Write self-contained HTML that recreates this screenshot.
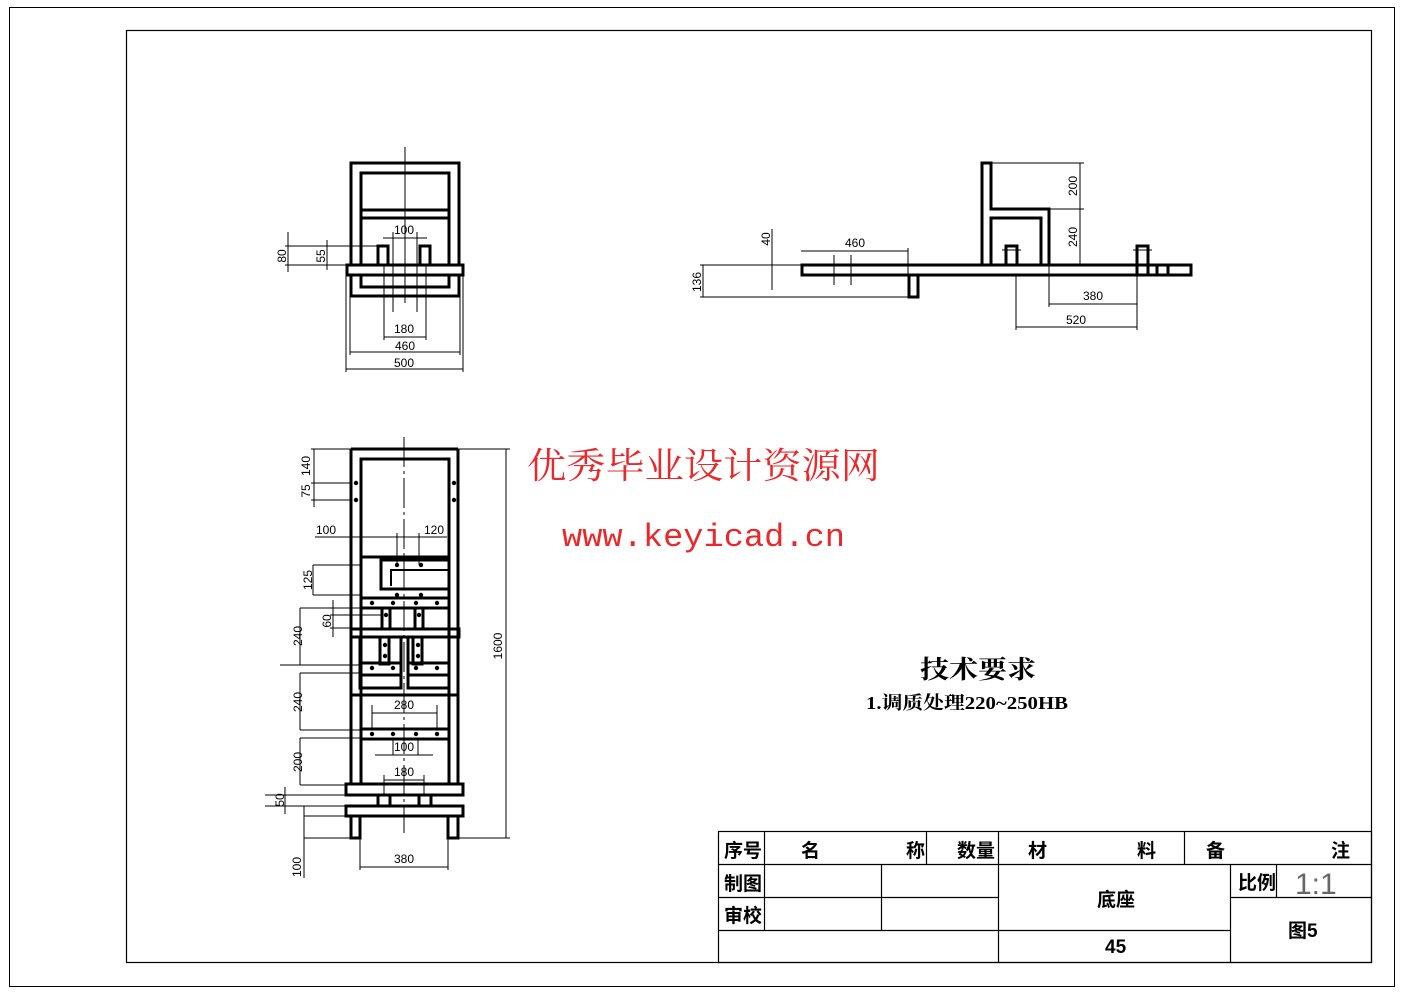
<!DOCTYPE html>
<html><head><meta charset="utf-8"><style>
html,body{margin:0;padding:0;background:#fff;}
svg{display:block;}
text{font-family:"Liberation Sans","Noto Sans CJK SC",sans-serif;}
</style></head><body>
<svg width="1403" height="992" viewBox="0 0 1403 992" xmlns="http://www.w3.org/2000/svg">
<rect x="0" y="0" width="1403" height="992" fill="#fff"/>
<rect x="9.5" y="7.5" width="1385" height="979" fill="none" stroke="#000" stroke-width="1"/>
<rect x="126.5" y="30.5" width="1245" height="932" fill="none" stroke="#000" stroke-width="1.2"/>

<!-- TOP LEFT VIEW -->
<g fill="none" stroke="#000">
<rect x="351" y="163" width="108" height="133" stroke-width="3"/>
<rect x="361" y="173" width="88" height="114" stroke-width="3"/>
<line x1="361" y1="210" x2="449" y2="210" stroke-width="3"/>
<line x1="361" y1="218" x2="449" y2="218" stroke-width="3"/>
<rect x="347" y="265" width="116" height="10" stroke-width="3" fill="#fff"/>
<rect x="378" y="246" width="10" height="19" stroke-width="3"/>
<rect x="420" y="246" width="10" height="19" stroke-width="3"/>
<g stroke-width="1">
<line x1="405" y1="147" x2="405" y2="303"/>
<line x1="393" y1="232" x2="393" y2="312"/><line x1="417" y1="232" x2="417" y2="312"/>
<line x1="383" y1="238" x2="427" y2="238"/>
<line x1="384" y1="265" x2="384" y2="340"/><line x1="426" y1="265" x2="426" y2="340"/>
<line x1="384" y1="337" x2="426" y2="337"/>
<line x1="350" y1="296" x2="350" y2="355"/><line x1="460" y1="296" x2="460" y2="355"/>
<line x1="350" y1="352" x2="460" y2="352"/>
<line x1="346" y1="275" x2="346" y2="372"/><line x1="463" y1="275" x2="463" y2="372"/>
<line x1="346" y1="369" x2="463" y2="369"/>
<line x1="285" y1="246" x2="378" y2="246"/><line x1="285" y1="265" x2="347" y2="265"/>
<line x1="288" y1="232" x2="288" y2="272"/>
<line x1="327" y1="240" x2="327" y2="270"/>
</g></g>
<g font-size="12" text-anchor="middle">
<text x="404" y="234">100</text><text x="404" y="333">180</text>
<text x="405" y="350">460</text><text x="404" y="367">500</text>
<text transform="translate(286,256) rotate(-90)">80</text>
<text transform="translate(325,256) rotate(-90)">55</text>
</g>

<!-- TOP RIGHT VIEW -->
<g fill="none" stroke="#000">
<rect x="802" y="265" width="389" height="10" stroke-width="3"/>
<rect x="909" y="275" width="9" height="22" stroke-width="3"/>
<polyline points="982,265 982,163 991,163 991,209 1049,209 1049,265" stroke-width="3"/>
<polyline points="991,265 991,218 1041,218 1041,265" stroke-width="3"/>
<rect x="1006" y="246" width="11" height="19" stroke-width="3"/>
<rect x="1137" y="246" width="11" height="29" stroke-width="3"/>
<line x1="1157" y1="265" x2="1157" y2="275" stroke-width="3"/>
<line x1="1168" y1="265" x2="1168" y2="275" stroke-width="3"/>
<g stroke-width="1">
<line x1="991" y1="163" x2="1084" y2="163"/><line x1="1049" y1="209" x2="1084" y2="209"/>
<line x1="1080" y1="163" x2="1080" y2="265"/>
<line x1="834" y1="255" x2="834" y2="285"/><line x1="851" y1="255" x2="851" y2="285"/>
<line x1="801" y1="251" x2="908" y2="251"/><line x1="908" y1="248" x2="908" y2="275"/>
<line x1="772" y1="229" x2="772" y2="290"/><line x1="770" y1="265" x2="802" y2="265"/>
<line x1="700" y1="265" x2="802" y2="265"/><line x1="700" y1="297" x2="909" y2="297"/>
<line x1="703" y1="265" x2="703" y2="297"/>
<line x1="1002" y1="250" x2="1021" y2="250"/><line x1="1133" y1="250" x2="1152" y2="250"/>
<line x1="1016" y1="275" x2="1016" y2="330"/><line x1="1049" y1="265" x2="1049" y2="307"/>
<line x1="1137" y1="275" x2="1137" y2="330"/>
<line x1="1049" y1="304" x2="1137" y2="304"/><line x1="1016" y1="327" x2="1137" y2="327"/>
</g></g>
<g font-size="12" text-anchor="middle">
<text x="855" y="247">460</text><text x="1093" y="300">380</text><text x="1076" y="324">520</text>
<text transform="translate(1077,186) rotate(-90)">200</text>
<text transform="translate(1077,237) rotate(-90)">240</text>
<text transform="translate(770,239) rotate(-90)">40</text>
<text transform="translate(701,282) rotate(-90)">136</text>
</g>

<!-- BOTTOM VIEW -->
<g fill="none" stroke="#000">
<line x1="351" y1="449" x2="351" y2="784" stroke-width="3"/>
<line x1="458" y1="449" x2="458" y2="784" stroke-width="3"/>
<line x1="351" y1="449" x2="458" y2="449" stroke-width="3"/>
<rect x="361" y="459" width="88" height="98" stroke-width="3"/>
<line x1="361" y1="557" x2="361" y2="784" stroke-width="3"/>
<line x1="449" y1="557" x2="449" y2="784" stroke-width="3"/>
<polyline points="449,560 381,560 381,589 449,589" stroke-width="3"/>
<polyline points="449,570 391,570 391,586" stroke-width="2"/>
<rect x="361" y="598" width="88" height="10" stroke-width="3"/>
<rect x="382" y="608" width="8" height="21" stroke-width="3"/>
<rect x="415" y="608" width="8" height="21" stroke-width="3"/>
<rect x="351" y="629" width="108" height="8" stroke-width="3"/>
<rect x="360" y="637" width="41" height="51" stroke-width="3"/>
<rect x="408" y="637" width="41" height="51" stroke-width="3"/>
<line x1="360" y1="663" x2="401" y2="663" stroke-width="3"/><line x1="360" y1="675" x2="401" y2="675" stroke-width="3"/>
<line x1="408" y1="663" x2="449" y2="663" stroke-width="3"/><line x1="408" y1="675" x2="449" y2="675" stroke-width="3"/>
<rect x="380" y="637" width="9" height="27" stroke-width="3"/>
<rect x="413" y="637" width="9" height="27" stroke-width="3"/>
<line x1="351" y1="695" x2="458" y2="695" stroke-width="3"/>
<rect x="361" y="729" width="88" height="10" stroke-width="3"/>
<rect x="346" y="784" width="117" height="11" stroke-width="3" fill="#fff"/>
<rect x="378" y="795" width="12" height="11" stroke-width="3"/>
<rect x="419" y="795" width="12" height="11" stroke-width="3"/>
<rect x="346" y="806" width="117" height="10" stroke-width="3" fill="#fff"/>
<rect x="351" y="816" width="9" height="22" stroke-width="3"/>
<rect x="448" y="816" width="10" height="22" stroke-width="3"/>
<g stroke-width="1">
<line x1="404" y1="437" x2="404" y2="833" stroke-dasharray="30,4,3,4"/>
<line x1="458" y1="449" x2="510" y2="449"/><line x1="458" y1="838" x2="510" y2="838"/>
<line x1="506" y1="449" x2="506" y2="838"/>
<line x1="311" y1="449" x2="351" y2="449"/><line x1="311" y1="483" x2="351" y2="483"/><line x1="311" y1="500" x2="351" y2="500"/>
<line x1="314" y1="449" x2="314" y2="507"/>
<line x1="315" y1="537" x2="447" y2="537"/>
<line x1="397" y1="533" x2="397" y2="565"/><line x1="419" y1="533" x2="419" y2="565"/>
<line x1="313" y1="565" x2="361" y2="565"/><line x1="313" y1="595" x2="361" y2="595"/>
<line x1="313" y1="565" x2="313" y2="595"/>
<line x1="300" y1="608" x2="361" y2="608"/><line x1="330" y1="615" x2="382" y2="615"/><line x1="330" y1="628" x2="351" y2="628"/>
<line x1="333" y1="600" x2="333" y2="637"/>
<line x1="300" y1="608" x2="300" y2="665"/><line x1="280" y1="665" x2="361" y2="665"/>
<line x1="300" y1="673" x2="300" y2="730"/><line x1="300" y1="673" x2="361" y2="673"/><line x1="300" y1="730" x2="361" y2="730"/>
<line x1="372" y1="713" x2="437" y2="713"/><line x1="372" y1="705" x2="372" y2="729"/><line x1="437" y1="705" x2="437" y2="729"/>
<line x1="375" y1="755" x2="433" y2="755"/><line x1="393" y1="739" x2="393" y2="755"/><line x1="418" y1="739" x2="418" y2="755"/>
<line x1="300" y1="738" x2="300" y2="785"/><line x1="300" y1="738" x2="361" y2="738"/><line x1="300" y1="785" x2="346" y2="785"/>
<line x1="384" y1="780" x2="424" y2="780"/><line x1="384" y1="775" x2="384" y2="795"/><line x1="424" y1="775" x2="424" y2="795"/>
<line x1="265" y1="795" x2="346" y2="795"/><line x1="265" y1="806" x2="346" y2="806"/>
<line x1="285" y1="787" x2="285" y2="814"/>
<line x1="304" y1="806" x2="304" y2="878"/><line x1="304" y1="816" x2="346" y2="816"/><line x1="304" y1="838" x2="351" y2="838"/>
<line x1="360" y1="838" x2="360" y2="870"/><line x1="448" y1="838" x2="448" y2="870"/>
<line x1="360" y1="867" x2="448" y2="867"/>
</g></g>
<g fill="#000">
<circle cx="356" cy="483" r="2.2"/><circle cx="356" cy="500" r="2.2"/><circle cx="454" cy="483" r="2.2"/><circle cx="454" cy="500" r="2.2"/>
<circle cx="397" cy="565" r="2.2"/><circle cx="421" cy="565" r="2.2"/><circle cx="397" cy="595" r="2.2"/><circle cx="421" cy="595" r="2.2"/>
<circle cx="372" cy="603" r="2.2"/><circle cx="393" cy="603" r="2.2"/><circle cx="416" cy="603" r="2.2"/><circle cx="437" cy="603" r="2.2"/>
<circle cx="386" cy="615" r="2.2"/><circle cx="419" cy="615" r="2.2"/>
<circle cx="385" cy="645" r="2.2"/><circle cx="385" cy="656" r="2.2"/><circle cx="418" cy="645" r="2.2"/><circle cx="418" cy="656" r="2.2"/>
<circle cx="372" cy="668" r="2.2"/><circle cx="393" cy="668" r="2.2"/><circle cx="416" cy="668" r="2.2"/><circle cx="437" cy="668" r="2.2"/>
<circle cx="372" cy="734" r="2.2"/><circle cx="393" cy="734" r="2.2"/><circle cx="416" cy="734" r="2.2"/><circle cx="437" cy="734" r="2.2"/>
</g>
<g font-size="12" text-anchor="middle">
<text transform="translate(310,466) rotate(-90)">140</text>
<text transform="translate(310,491) rotate(-90)">75</text>
<text x="326" y="534">100</text><text x="434" y="534">120</text>
<text transform="translate(312,580) rotate(-90)">125</text>
<text transform="translate(331,621) rotate(-90)">60</text>
<text transform="translate(302,636) rotate(-90)">240</text>
<text transform="translate(502,646) rotate(-90)">1600</text>
<text transform="translate(302,702) rotate(-90)">240</text>
<text x="404" y="709">280</text><text x="404" y="751">100</text>
<text transform="translate(302,762) rotate(-90)">200</text>
<text x="404" y="776">180</text>
<text transform="translate(284,800) rotate(-90)">50</text>
<text transform="translate(301,867) rotate(-90)">100</text>
<text x="404" y="863">380</text>
</g>

<!-- WATERMARK -->
<text x="527" y="478" font-size="36" textLength="353" lengthAdjust="spacingAndGlyphs" fill="#e8282a" style="font-family:'Liberation Serif','Noto Serif CJK SC',serif">优秀毕业设计资源网</text>
<text x="562" y="546" font-size="32" textLength="283" lengthAdjust="spacingAndGlyphs" fill="#e8282a" style="font-family:'Liberation Mono',monospace">www.keyicad.cn</text>

<!-- TECH REQUIREMENTS -->
<text x="920" y="678" font-size="25" textLength="116" lengthAdjust="spacingAndGlyphs" font-weight="bold" style="font-family:'Liberation Serif','Noto Serif CJK SC',serif">技术要求</text>
<text x="866" y="709" font-size="18" textLength="202" lengthAdjust="spacingAndGlyphs" font-weight="bold" style="font-family:'Liberation Serif','Noto Serif CJK SC',serif">1.调质处理220~250HB</text>

<!-- TITLE BLOCK -->
<g stroke="#000" stroke-width="1.2" fill="none">
<rect x="718.5" y="831.5" width="653" height="131"/>
<line x1="718" y1="864.5" x2="1371" y2="864.5"/>
<line x1="718" y1="897.5" x2="998" y2="897.5"/>
<line x1="1230" y1="897.5" x2="1371" y2="897.5"/>
<line x1="718" y1="930.5" x2="1230" y2="930.5"/>
<line x1="764.5" y1="831" x2="764.5" y2="930"/>
<line x1="926.5" y1="831" x2="926.5" y2="864"/>
<line x1="881.5" y1="864" x2="881.5" y2="930"/>
<line x1="998.5" y1="831" x2="998.5" y2="962"/>
<line x1="1184.5" y1="831" x2="1184.5" y2="864"/>
<line x1="1230.5" y1="864" x2="1230.5" y2="962"/>
<line x1="1276.5" y1="864" x2="1276.5" y2="897"/>
</g>
<g font-size="19" font-weight="bold" style="font-family:'Liberation Serif','Noto Serif CJK SC',serif">
<text x="724" y="857">序号</text><text x="801" y="857">名</text><text x="906" y="857">称</text>
<text x="957" y="857">数量</text><text x="1028" y="857">材</text><text x="1137" y="857">料</text>
<text x="1206" y="857">备</text><text x="1331" y="857">注</text>
<text x="724" y="890">制图</text><text x="724" y="922">审校</text>
<text x="1097" y="906">底座</text><text x="1105" y="953">45</text>
<text x="1238" y="889">比例</text><text x="1288" y="937">图5</text>
</g>
<text x="1295" y="894" font-size="30" fill="#666" style="font-family:'Liberation Sans',sans-serif">1:1</text>
</svg>
</body></html>
